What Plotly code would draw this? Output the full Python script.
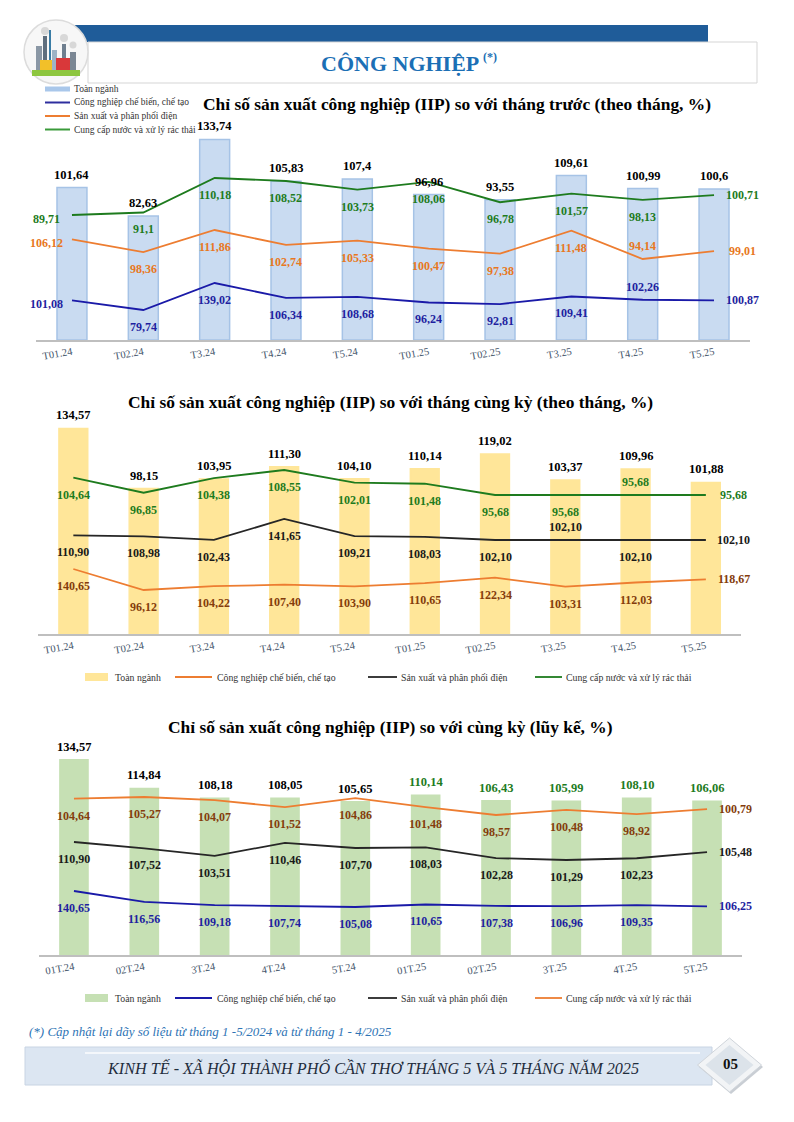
import plotly.graph_objects as go

W, H = 794, 1122


def X(p):
    return p / W


def Y(p):
    return 1 - p / H


# ---------------- data ----------------
cats1 = ["T01.24", "T02.24", "T3.24", "T4.24", "T5.24", "T01.25", "T02.25", "T3.25", "T4.25", "T5.25"]
total1 = [101.64, 82.63, 133.74, 105.83, 107.4, 96.96, 93.55, 109.61, 100.99, 100.6]
manuf1 = [101.08, 79.74, 139.02, 106.34, 108.68, 96.24, 92.81, 109.41, 102.26, 100.87]
power1 = [106.12, 98.36, 111.86, 102.74, 105.33, 100.47, 97.38, 111.48, 94.14, 99.01]
water1 = [89.71, 91.1, 110.18, 108.52, 103.73, 108.06, 96.78, 101.57, 98.13, 100.71]

cats2 = ["T01.24", "T02.24", "T3.24", "T4.24", "T5.24", "T01.25", "T02.25", "T3.25", "T4.25", "T5.25"]
total2 = [134.57, 98.15, 103.95, 111.30, 104.10, 110.14, 119.02, 103.37, 109.96, 101.88]
manuf2 = [140.65, 96.12, 104.22, 107.40, 103.90, 110.65, 122.34, 103.31, 112.03, 118.67]
power2 = [110.90, 108.98, 102.43, 141.65, 109.21, 108.03, 102.10, 102.10, 102.10, 102.10]
water2 = [104.64, 96.85, 104.38, 108.55, 102.01, 101.48, 95.68, 95.68, 95.68, 95.68]

cats3 = ["01T.24", "02T.24", "3T.24", "4T.24", "5T.24", "01T.25", "02T.25", "3T.25", "4T.25", "5T.25"]
total3 = [134.57, 114.84, 108.18, 108.05, 105.65, 110.14, 106.43, 105.99, 108.10, 106.06]
manuf3 = [140.65, 116.56, 109.18, 107.74, 105.08, 110.65, 107.38, 106.96, 109.35, 106.25]
power3 = [110.90, 107.52, 103.51, 110.46, 107.70, 108.03, 102.28, 101.29, 102.23, 105.48]
water3 = [104.64, 105.27, 104.07, 101.52, 104.86, 101.48, 98.57, 100.48, 98.92, 100.79]

series_names = ["Toàn ngành", "Công nghiệp chế biến, chế tạo",
                "Sản xuất và phân phối điện", "Cung cấp nước và xử lý rác thải"]

# ---------------- styles ----------------
SERIF = "Liberation Serif, Times New Roman, serif"
TICK_COLOR = "#44546A"
BLUE_L, BLUE_T = "#1A1AA8", "#1F1FA0"
ORANGE_L, ORANGE_T = "#ED7D31", "#E87722"
BROWN_T = "#843C0C"
GREEN_L, GREEN_T = "#1E7B1E", "#1E7B1E"
BLACK_L, BLACK_T = "#262626", "#1A1A1A"

# label position codes per point: b below, t above, l left, r right
OFFS = {"b": (0, -17), "t": (0, 13), "l": (-25, -4), "r": (28, 0)}


def fmt1(v):
    return str(v).replace(".", ",")


def fmt2(v):
    return f"{v:.2f}".replace(".", ",")


def yrange(v_lo, p_lo, v_hi, p_hi, top_px, bot_px):
    s = (p_lo - p_hi) / (v_hi - v_lo)
    r0 = v_lo - (bot_px - p_lo) / s
    r1 = r0 + (bot_px - top_px) / s
    return [r0, r1]


def ptext(x, y, text, font, xanchor="center"):
    return dict(x=X(x), y=Y(y), xref="paper", yref="paper", showarrow=False,
                xanchor=xanchor, yanchor="middle", text=text, font=font)


fig = go.Figure()
layout = dict(
    width=W, height=H, margin=dict(l=0, r=0, t=0, b=0),
    paper_bgcolor="white", plot_bgcolor="rgba(0,0,0,0)",
    showlegend=False, font=dict(family=SERIF),
)
annotations = []
shapes = []

charts = [
    dict(cats=cats1, total=total1, fmt=fmt1,
         xdom=(36.3, 749.7), top=130, bot=340, bar_rng=[0, 140],
         bar_fill="#C9DBF1", bar_line="#A6C3E6", bar_w=0.42,
         bar_txt=["#000000"] * 10,
         lines=[
             (manuf1, BLUE_L, BLUE_T, (79.74, 310, 139.02, 283), "lbbbbbbbtr"),
             (power1, ORANGE_L, ORANGE_T, (94.14, 259, 111.86, 230), "lbbbbbbbtr"),
             (water1, GREEN_L, GREEN_T, (89.71, 215, 110.18, 178), "lbbbbbbbbr"),
         ]),
    dict(cats=cats2, total=total2, fmt=fmt2,
         xdom=(38.2, 741.0), top=418, bot=634, bar_rng=[10, 10 + 216 / 1.65],
         bar_fill="#FFE699", bar_line="#FFE699", bar_w=0.41,
         bar_txt=["#000000"] * 10,
         lines=[
             (manuf2, ORANGE_L, BROWN_T, (96.12, 590, 140.65, 569), "bbbbbbbbbr"),
             (power2, BLACK_L, BLACK_T, (102.10, 540, 141.65, 519), "bbbbbbbtbr"),
             (water2, GREEN_L, GREEN_T, (95.68, 495, 108.55, 470), "bbbbbbbbtr"),
         ]),
    dict(cats=cats3, total=total3, fmt=fmt2,
         xdom=(38.8, 742.2), top=745, bot=955, bar_rng=[0, 210 / 1.45],
         bar_fill="#C6E0B4", bar_line="#C6E0B4", bar_w=0.40,
         bar_txt=["#000000"] * 5 + [GREEN_T] * 5,
         lines=[
             (manuf3, BLUE_L, BLUE_T, (105.08, 907, 140.65, 891), "bbbbbbbbbr"),
             (power3, BLACK_L, BLACK_T, (101.29, 860, 110.90, 842), "bbbbbbbbbr"),
             (water3, ORANGE_L, BROWN_T, (98.57, 815, 105.27, 797), "bbbbbbbbbr"),
         ]),
]

ycount = 0
for ci, ch in enumerate(charts):
    xname = "x" if ci == 0 else f"x{ci + 1}"
    xkey = "xaxis" if ci == 0 else f"xaxis{ci + 1}"
    ycount += 1
    ybar = "y" if ycount == 1 else f"y{ycount}"
    ybar_key = "yaxis" if ycount == 1 else f"yaxis{ycount}"
    ydom = [Y(ch["bot"]), Y(ch["top"])]

    layout[xkey] = dict(
        domain=[X(ch["xdom"][0]), X(ch["xdom"][1])], anchor=ybar, type="category",
        range=[-0.5, 9.5], showline=True, linecolor="#BFBFBF", linewidth=2,
        showgrid=False, zeroline=False, ticks="", tickangle=-10,
        tickfont=dict(family=SERIF, size=10.5, color=TICK_COLOR), fixedrange=True,
    )
    layout[ybar_key] = dict(domain=ydom, anchor=xname, range=ch["bar_rng"],
                            visible=False, showgrid=False, zeroline=False, fixedrange=True)

    fig.add_trace(go.Bar(
        x=ch["cats"], y=ch["total"], xaxis=xname, yaxis=ybar, name=series_names[0],
        width=ch["bar_w"], marker=dict(color=ch["bar_fill"], line=dict(color=ch["bar_line"], width=1.5)),
        hoverinfo="skip",
    ))
    for c, v, tc in zip(ch["cats"], ch["total"], ch["bar_txt"]):
        annotations.append(dict(
            x=c, y=v, xref=xname, yref=ybar, text=ch["fmt"](v), showarrow=False,
            xanchor="center", yanchor="bottom", yshift=4,
            font=dict(family=SERIF, size=12.5, color=tc, weight="bold"),
        ))

    for vals, lcol, tcol, mapping, poss in ch["lines"]:
        ycount += 1
        yname = f"y{ycount}"
        ykey = f"yaxis{ycount}"
        layout[ykey] = dict(domain=ydom, anchor=xname, overlaying=ybar,
                            range=yrange(*mapping, ch["top"], ch["bot"]),
                            visible=False, showgrid=False, zeroline=False, fixedrange=True)
        fig.add_trace(go.Scatter(
            x=ch["cats"], y=vals, xaxis=xname, yaxis=yname, mode="lines",
            line=dict(color=lcol, width=1.8), cliponaxis=False, hoverinfo="skip",
        ))
        for c, v, p in zip(ch["cats"], vals, poss):
            dx, dy = OFFS[p]
            annotations.append(dict(
                x=c, y=v, xref=xname, yref=yname, text=ch["fmt"](v), showarrow=False,
                xanchor="center", yanchor="middle", xshift=dx, yshift=dy,
                font=dict(family=SERIF, size=12, color=tcol, weight="bold"),
            ))

# ---------------- titles ----------------
annotations.append(ptext(400, 63, "CÔNG NGHIỆP",
                         dict(family=SERIF, size=22, color="#1B6FB5", weight="bold")))
annotations.append(ptext(481, 57, "(*)",
                         dict(family=SERIF, size=12, color="#1B6FB5", weight="bold"), "left"))
chart_titles = [
    ("Chỉ số sản xuất công nghiệp (IIP) so với tháng trước (theo tháng, %)", 457, 104),
    ("Chỉ số sản xuất công nghiệp (IIP) so với tháng cùng kỳ (theo tháng, %)", 390, 402),
    ("Chỉ số sản xuất công nghiệp (IIP) so với cùng kỳ (lũy kế, %)", 390, 727),
]
for t, tx, ty in chart_titles:
    annotations.append(ptext(tx, ty, t, dict(family=SERIF, size=17.4, color="#000000", weight="bold")))

# ---------------- legends (drawn) ----------------
LEG_FONT = dict(family=SERIF, size=9.5, color="#333333")
# chart 1: vertical legend
leg1 = [("bar", "#A9C7EA"), ("line", "#2E2E9E"), ("line", ORANGE_L), ("line", "#3A9A3A")]
for i, (kind, col) in enumerate(leg1):
    yy = 89 + i * 13.5
    if kind == "bar":
        shapes.append(dict(type="rect", xref="paper", yref="paper", x0=X(45), x1=X(70),
                           y0=Y(yy + 2.5), y1=Y(yy - 2.5), fillcolor=col, line=dict(width=0)))
    else:
        shapes.append(dict(type="line", xref="paper", yref="paper", x0=X(45), x1=X(70),
                           y0=Y(yy), y1=Y(yy), line=dict(color=col, width=2)))
    annotations.append(ptext(72, yy, series_names[i], LEG_FONT, "left"))

LEG_FONT2 = dict(family=SERIF, size=9.8, color="#333333")
leg_x = [(85, 108, 113), (175, 212, 215), (368, 397, 399), (535, 562, 564)]
for yy, cols in [(677, ["#FFE699", ORANGE_L, BLACK_L, GREEN_L]),
                 (998, ["#C6E0B4", BLUE_L, BLACK_L, ORANGE_L])]:
    for i, ((a, b, t), col) in enumerate(zip(leg_x, cols)):
        if i == 0:
            shapes.append(dict(type="rect", xref="paper", yref="paper", x0=X(a), x1=X(b),
                               y0=Y(yy + 4), y1=Y(yy - 4), fillcolor=col, line=dict(width=0)))
        else:
            shapes.append(dict(type="line", xref="paper", yref="paper", x0=X(a), x1=X(b),
                               y0=Y(yy), y1=Y(yy), line=dict(color=col, width=1.8)))
        annotations.append(ptext(t, yy, series_names[i], LEG_FONT2, "left"))

# ---------------- header decoration ----------------
shapes += [
    dict(type="rect", xref="paper", yref="paper", x0=X(75), x1=X(708), y0=Y(42), y1=Y(25),
         fillcolor="#1F5C99", line=dict(width=0), layer="below"),
    dict(type="rect", xref="paper", yref="paper", x0=X(88), x1=X(757), y0=Y(83), y1=Y(42),
         fillcolor="white", line=dict(color="#D5D5D5", width=1), layer="below"),
    dict(type="circle", xref="paper", yref="paper", x0=X(24), x1=X(88), y0=Y(84), y1=Y(20),
         fillcolor="#F7F7F7", line=dict(color="#DCDCDC", width=1.5)),
]
buildings = [
    (32, 80, 70, 76, "#8DC63F"),
    (36, 42, 46, 70, "#8A97A5"),
    (43, 47, 36, 70, "#5E6E7E"),
    (49, 51, 30, 62, "#3A7CA5"),
    (52, 57, 50, 70, "#9EB3C6"),
    (40, 52, 60, 70, "#F2C029"),
    (56, 70, 58, 70, "#D9383A"),
    (70, 76, 52, 70, "#7B8794"),
    (62, 66, 44, 58, "#6F7F8F"),
]
for x0, x1, y0, y1, c in buildings:
    shapes.append(dict(type="rect", xref="paper", yref="paper", x0=X(x0), x1=X(x1),
                       y0=Y(y1), y1=Y(y0), fillcolor=c, line=dict(width=0)))
for cx, cy, r in [(45, 31, 4), (64, 38, 4), (73, 45, 3.5)]:
    shapes.append(dict(type="circle", xref="paper", yref="paper", x0=X(cx - r), x1=X(cx + r),
                       y0=Y(cy + r), y1=Y(cy - r), fillcolor="#D8D8D8", line=dict(width=0)))

# ---------------- footer ----------------
annotations.append(ptext(27, 1031,
                         "(*) Cập nhật lại dãy số liệu từ tháng 1 -5/2024 và từ tháng 1 - 4/2025",
                         dict(family=SERIF, size=13, color="#2E74B5", style="italic"), "left"))
shapes += [
    dict(type="rect", xref="paper", yref="paper", x0=X(25), x1=X(712), y0=Y(1085), y1=Y(1047),
         fillcolor="#DCE6F2", line=dict(color="#C8D4E3", width=1)),
    dict(type="line", xref="paper", yref="paper", x0=X(85), x1=X(700), y0=Y(1053), y1=Y(1053),
         line=dict(color="#F4F7FB", width=2)),
]


def diamond(cx, cy, hw, hh):
    pts = [(cx - hw, cy), (cx, cy - hh), (cx + hw, cy), (cx, cy + hh)]
    return "M " + " L ".join(f"{X(a)},{Y(b)}" for a, b in pts) + " Z"


shapes += [
    dict(type="path", xref="paper", yref="paper", path=diamond(731, 1067, 32, 27),
         fillcolor="#C9CED4", line=dict(width=0)),
    dict(type="path", xref="paper", yref="paper", path=diamond(729.5, 1065, 32, 27),
         fillcolor="#F2F4F6", line=dict(color="#D0D5DB", width=1)),
    dict(type="path", xref="paper", yref="paper", path=diamond(729.5, 1065, 24, 20),
         fillcolor="#DCE3EA", line=dict(width=0)),
]
annotations.append(ptext(373, 1068, "KINH TẾ - XÃ HỘI THÀNH PHỐ CẦN THƠ THÁNG 5 VÀ 5 THÁNG NĂM 2025",
                         dict(family=SERIF, size=16.2, color="#1F2D3D", style="italic")))
annotations.append(ptext(730, 1064, "05", dict(family=SERIF, size=15, color="#111111", weight="bold")))

layout["annotations"] = annotations
layout["shapes"] = shapes
fig.update_layout(**layout)
fig.write_html("out.html", config={"displayModeBar": False},
               post_script="document.body.style.margin='0';")
